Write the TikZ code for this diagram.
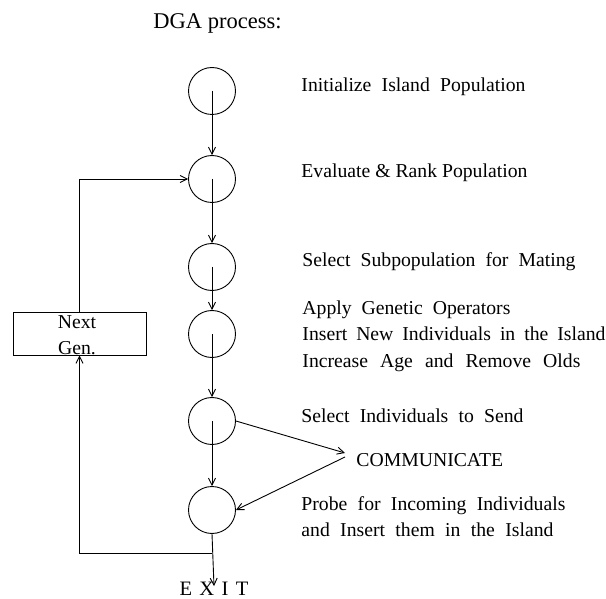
\documentclass[tikz,border=0pt]{standalone}
\usepackage{fontspec}
\setmainfont{Liberation Serif}
\usetikzlibrary{arrows.meta}
\begin{document}
\begin{tikzpicture}[x=1pt,y=-1pt,
  every path/.style={line width=0.9pt},
  stage/.style={circle,draw,minimum size=47pt,inner sep=0pt},
  lbl/.style={anchor=base west,inner sep=0pt,font=\fontsize{19.7}{24}\selectfont},
  arr/.style={-{Straight Barb[length=7pt,width=7pt]}},
  genbox/.style={draw,minimum width=133pt,minimum height=43pt,inner sep=0pt}]
\useasboundingbox (0,0) rectangle (606,599);
% title
\node[lbl,font=\fontsize{22.5}{26}\selectfont] (title) at (153,29) {DGA process:};
% stages
\node[stage] (c1) at (212,91) {};
\node[stage] (c2) at (212,179) {};
\node[stage] (c3) at (212,267) {};
\node[stage] (c4) at (212,334) {};
\node[stage] (c5) at (212,421) {};
\node[stage] (c6) at (212,510) {};
% labels
\node[lbl] (t1) at (301,92) {\makebox[224pt][s]{Initialize Island Population}};
\node[lbl] (t2) at (301,178) {\makebox[226pt][s]{Evaluate \& Rank Population}};
\node[lbl] (t3) at (302,267) {\makebox[273pt][s]{Select Subpopulation for Mating}};
\node[lbl] (t4a) at (302,315) {\makebox[208pt][s]{Apply Genetic Operators}};
\node[lbl] (t4b) at (302,341) {\makebox[303pt][s]{Insert New Individuals in the Island}};
\node[lbl] (t4c) at (302,367) {\makebox[278pt][s]{Increase Age and Remove Olds}};
\node[lbl] (t5) at (301,422) {\makebox[222pt][s]{Select Individuals to Send}};
\node[lbl] (comm) at (356,466) {COMMUNICATE};
\node[lbl] (t6a) at (301,510) {\makebox[264pt][s]{Probe for Incoming Individuals}};
\node[lbl] (t6b) at (301,536) {\makebox[252pt][s]{and Insert them in the Island}};
% next generation box
\node[genbox] (ng) at (79.5,333.5) {};
\node[lbl,anchor=base] (ngt1) at (77,328) {Next};
\node[lbl,anchor=base] (ngt2) at (77,354) {Gen.};
% exit
\node[lbl,anchor=base,font=\fontsize{20.5}{24}\selectfont] (exit) at (214,595) {\makebox[69pt][s]{E X I T}};
% coordinates
\coordinate (j) at (212,553);
\coordinate (cin) at (345,453);
\coordinate (cout) at (345,457);
% flow
\draw[arr] (c1.center) -- (c2.north);
\draw[arr] (c2.center) -- (c3.north);
\draw[arr] (c3.center) -- (c4.north);
\draw[arr] (c4.center) -- (c5.north);
\draw[arr] (c5.center) -- (c6.north);
\draw[arr] (c6.south) -- ([yshift=-5pt]exit.north);
\draw[arr] (c5.east) -- (cin);
\draw[arr] (cout) -- (c6.east);
\draw[arr] (j) -| (ng.south);
\draw[arr] (ng.north) |- (c2.west);
\end{tikzpicture}
\end{document}
